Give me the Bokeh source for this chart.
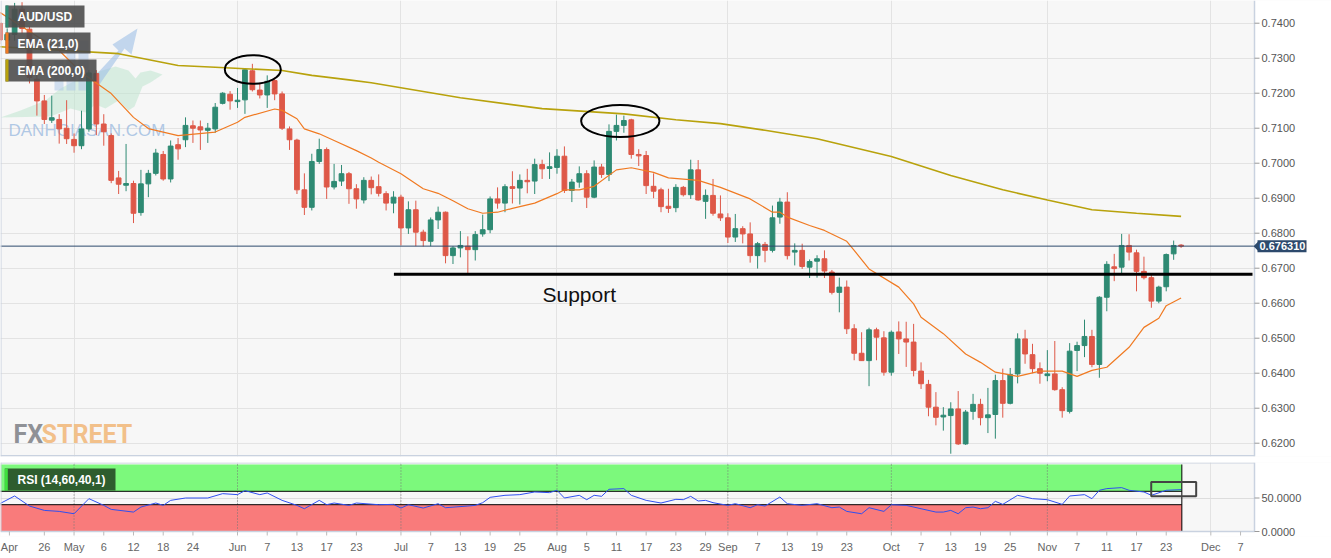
import numpy as np
import pandas as pd
from bokeh.plotting import figure
from bokeh.models import ColumnDataSource, FixedTicker, Range1d
from bokeh.layouts import column
from bokeh.embed import file_html
from bokeh.resources import INLINE
from bokeh.core.properties import value

# ---------------- data (AUD/USD daily) ----------------
dates = pd.bdate_range("2022-04-18", "2022-11-25")

opens = [0.7400, 0.7352, 0.7368, 0.7440, 0.7383, 0.7240, 0.7178, 0.7123, 0.7125, 0.7100,
         0.7068, 0.7050, 0.7098, 0.7256, 0.7112, 0.7079, 0.6958, 0.6937, 0.6942, 0.6859,
         0.6941, 0.6971, 0.7025, 0.6955, 0.7053, 0.7067, 0.7107, 0.7104, 0.7094, 0.7098,
         0.7171, 0.7197, 0.7176, 0.7181, 0.7264, 0.7209, 0.7195, 0.7236, 0.7198, 0.7098,
         0.7066, 0.6924, 0.6874, 0.7005, 0.7039, 0.6932, 0.6949, 0.6970, 0.6927, 0.6895,
         0.6951, 0.6933, 0.6913, 0.6886, 0.6903, 0.6815, 0.6867, 0.6803, 0.6777, 0.6838,
         0.6860, 0.6736, 0.6758, 0.6763, 0.6753, 0.6798, 0.6810, 0.6898, 0.6886, 0.6933,
         0.6929, 0.6951, 0.6949, 0.6996, 0.6985, 0.6988, 0.7020, 0.6922, 0.6946, 0.6970,
         0.6903, 0.6989, 0.6968, 0.7091, 0.7108, 0.7124, 0.7025, 0.7022, 0.6934, 0.6924,
         0.6877, 0.6873, 0.6931, 0.6910, 0.6981, 0.6891, 0.6908, 0.6855, 0.6844, 0.6789,
         0.6813, 0.6798, 0.6736, 0.6768, 0.6751, 0.6846, 0.6889, 0.6746, 0.6751, 0.6703,
         0.6720, 0.6727, 0.6689, 0.6631, 0.6646, 0.6527, 0.6457, 0.6436, 0.6524, 0.6501,
         0.6403, 0.6518, 0.6498, 0.6489, 0.6406, 0.6368, 0.6303, 0.6275, 0.6279, 0.6298,
         0.6198, 0.6291, 0.6311, 0.6273, 0.6282, 0.6379, 0.6314, 0.6398, 0.6498, 0.6453,
         0.6413, 0.6393, 0.6398, 0.6353, 0.6291, 0.6465, 0.6479, 0.6505, 0.6425, 0.6617,
         0.6704, 0.6703, 0.6765, 0.6744, 0.6691, 0.6673, 0.6606, 0.6647, 0.6741, 0.6766]
highs = [0.7430, 0.7385, 0.7458, 0.7460, 0.7390, 0.7255, 0.7195, 0.7193, 0.7140, 0.7180,
         0.7085, 0.7150, 0.7266, 0.7266, 0.7140, 0.7085, 0.6978, 0.7055, 0.6950, 0.6981,
         0.6981, 0.7041, 0.7035, 0.7065, 0.7072, 0.7131, 0.7122, 0.7122, 0.7115, 0.7172,
         0.7203, 0.7206, 0.7215, 0.7270, 0.7284, 0.7230, 0.7251, 0.7245, 0.7205, 0.7105,
         0.7070, 0.6971, 0.7027, 0.7070, 0.7045, 0.6998, 0.6995, 0.6975, 0.6940, 0.6960,
         0.6962, 0.6968, 0.6920, 0.6920, 0.6910, 0.6891, 0.6893, 0.6810, 0.6845, 0.6876,
         0.6862, 0.6763, 0.6806, 0.6791, 0.6806, 0.6853, 0.6905, 0.6931, 0.6940, 0.6977,
         0.6968, 0.6984, 0.7013, 0.7010, 0.7031, 0.7040, 0.7048, 0.6955, 0.6991, 0.6980,
         0.7008, 0.6998, 0.7111, 0.7139, 0.7136, 0.7127, 0.7040, 0.7035, 0.6971, 0.6930,
         0.6927, 0.6940, 0.6935, 0.7010, 0.7009, 0.6925, 0.6955, 0.6908, 0.6857, 0.6855,
         0.6820, 0.6831, 0.6775, 0.6775, 0.6879, 0.6901, 0.6917, 0.6771, 0.6770, 0.6725,
         0.6737, 0.6751, 0.6695, 0.6673, 0.6665, 0.6540, 0.6517, 0.6530, 0.6530, 0.6520,
         0.6522, 0.6548, 0.6547, 0.6541, 0.6431, 0.6381, 0.6346, 0.6303, 0.6317, 0.6349,
         0.6295, 0.6341, 0.6327, 0.6358, 0.6396, 0.6413, 0.6415, 0.6514, 0.6524, 0.6484,
         0.6431, 0.6466, 0.6492, 0.6360, 0.6486, 0.6490, 0.6553, 0.6524, 0.6620, 0.6720,
         0.6741, 0.6798, 0.6797, 0.6753, 0.6733, 0.6686, 0.6650, 0.6742, 0.6779, 0.6769]
lows = [0.7340, 0.7340, 0.7350, 0.7371, 0.7228, 0.7136, 0.7112, 0.7115, 0.7056, 0.7055,
        0.7030, 0.7040, 0.7090, 0.7080, 0.7050, 0.6943, 0.6912, 0.6920, 0.6829, 0.6850,
        0.6903, 0.6965, 0.6950, 0.6945, 0.7010, 0.7046, 0.7058, 0.7038, 0.7058, 0.7087,
        0.7168, 0.7153, 0.7158, 0.7141, 0.7205, 0.7185, 0.7158, 0.7180, 0.7095, 0.7038,
        0.6912, 0.6852, 0.6865, 0.6998, 0.6898, 0.6925, 0.6935, 0.6884, 0.6870, 0.6885,
        0.6911, 0.6905, 0.6865, 0.6857, 0.6765, 0.6798, 0.6763, 0.6762, 0.6763, 0.6812,
        0.6714, 0.6712, 0.6731, 0.6682, 0.6722, 0.6790, 0.6800, 0.6870, 0.6860, 0.6885,
        0.6882, 0.6914, 0.6912, 0.6955, 0.6955, 0.6970, 0.6915, 0.6889, 0.6930, 0.6872,
        0.6900, 0.6958, 0.6949, 0.7065, 0.7087, 0.7013, 0.6992, 0.6912, 0.6900, 0.6860,
        0.6858, 0.6860, 0.6905, 0.6898, 0.6893, 0.6841, 0.6850, 0.6835, 0.6772, 0.6775,
        0.6771, 0.6716, 0.6699, 0.6717, 0.6745, 0.6827, 0.6725, 0.6708, 0.6698, 0.6672,
        0.6673, 0.6672, 0.6625, 0.6574, 0.6512, 0.6437, 0.6435, 0.6363, 0.6437, 0.6393,
        0.6393, 0.6455, 0.6418, 0.6391, 0.6355, 0.6277, 0.6251, 0.6236, 0.6170, 0.6195,
        0.6195, 0.6267, 0.6251, 0.6229, 0.6213, 0.6273, 0.6311, 0.6371, 0.6427, 0.6400,
        0.6370, 0.6377, 0.6350, 0.6273, 0.6285, 0.6406, 0.6446, 0.6417, 0.6387, 0.6577,
        0.6663, 0.6686, 0.6722, 0.6634, 0.6668, 0.6587, 0.6600, 0.6634, 0.6724, 0.6758]
closes = [0.7352, 0.7368, 0.7440, 0.7385, 0.7245, 0.7178, 0.7125, 0.7130, 0.7098, 0.7070,
          0.7050, 0.7098, 0.7258, 0.7112, 0.7090, 0.6951, 0.6940, 0.6942, 0.6857, 0.6941,
          0.6971, 0.7029, 0.6955, 0.7049, 0.7041, 0.7108, 0.7100, 0.7095, 0.7100, 0.7160,
          0.7200, 0.7178, 0.7180, 0.7267, 0.7210, 0.7195, 0.7234, 0.7198, 0.7100, 0.7067,
          0.6924, 0.6874, 0.7005, 0.7039, 0.6932, 0.6948, 0.6970, 0.6927, 0.6898, 0.6951,
          0.6930, 0.6914, 0.6886, 0.6903, 0.6815, 0.6867, 0.6803, 0.6779, 0.6838, 0.6860,
          0.6736, 0.6758, 0.6765, 0.6753, 0.6796, 0.6810, 0.6898, 0.6886, 0.6933, 0.6928,
          0.6951, 0.6947, 0.6996, 0.6984, 0.6990, 0.7020, 0.6922, 0.6946, 0.6970, 0.6903,
          0.6989, 0.6968, 0.7091, 0.7108, 0.7122, 0.7025, 0.7021, 0.6936, 0.6920, 0.6876,
          0.6871, 0.6931, 0.6910, 0.6981, 0.6895, 0.6908, 0.6857, 0.6844, 0.6789, 0.6813,
          0.6798, 0.6736, 0.6770, 0.6751, 0.6844, 0.6889, 0.6736, 0.6751, 0.6705, 0.6719,
          0.6727, 0.6692, 0.6631, 0.6646, 0.6527, 0.6457, 0.6436, 0.6524, 0.6503, 0.6403,
          0.6517, 0.6498, 0.6489, 0.6408, 0.6370, 0.6303, 0.6274, 0.6280, 0.6298, 0.6198,
          0.6289, 0.6311, 0.6273, 0.6281, 0.6379, 0.6314, 0.6396, 0.6498, 0.6455, 0.6413,
          0.6400, 0.6398, 0.6353, 0.6293, 0.6463, 0.6479, 0.6505, 0.6425, 0.6617, 0.6711,
          0.6699, 0.6765, 0.6746, 0.6691, 0.6673, 0.6606, 0.6646, 0.6739, 0.6765, 0.67631]

# EMA 21 / EMA 200 read at selected dates
ema21_dates = ["2022-04-18", "2022-04-28", "2022-05-03", "2022-05-09", "2022-05-12", "2022-05-16",
               "2022-05-20", "2022-05-27", "2022-06-01", "2022-06-02", "2022-06-08", "2022-06-09",
               "2022-06-13", "2022-06-14", "2022-06-16", "2022-06-20", "2022-06-23", "2022-06-27",
               "2022-06-28", "2022-07-01", "2022-07-06", "2022-07-08", "2022-07-12", "2022-07-14",
               "2022-07-18", "2022-07-20", "2022-07-22", "2022-07-27", "2022-08-01", "2022-08-02",
               "2022-08-04", "2022-08-08", "2022-08-11", "2022-08-15", "2022-08-18", "2022-08-22",
               "2022-08-26", "2022-08-31", "2022-09-06", "2022-09-09", "2022-09-12", "2022-09-13",
               "2022-09-16", "2022-09-20", "2022-09-23", "2022-09-26", "2022-09-28", "2022-10-04",
               "2022-10-06", "2022-10-07", "2022-10-12", "2022-10-17", "2022-10-19", "2022-10-21",
               "2022-10-26", "2022-10-31", "2022-11-03", "2022-11-07", "2022-11-09", "2022-11-11",
               "2022-11-16", "2022-11-18", "2022-11-22", "2022-11-23", "2022-11-25"]
ema21_vals = [0.7431, 0.7322, 0.7259, 0.7199, 0.7131, 0.7099, 0.7079, 0.7089, 0.7117, 0.7131,
              0.7155, 0.7151, 0.7127, 0.7098, 0.7084, 0.7065, 0.7036, 0.7015, 0.7003, 0.6970,
              0.6927, 0.6914, 0.6893, 0.6870, 0.6857, 0.6860, 0.6871, 0.6886, 0.6913, 0.6924,
              0.6924, 0.6934, 0.6981, 0.6987, 0.6974, 0.6958, 0.6951, 0.6931, 0.6898, 0.6860,
              0.6860, 0.6846, 0.6822, 0.6808, 0.6777, 0.6751, 0.6698, 0.6646, 0.6598, 0.6560,
              0.6513, 0.6455, 0.6431, 0.6403, 0.6391, 0.6406, 0.6406, 0.6391, 0.6408, 0.6417,
              0.6474, 0.6531, 0.6557, 0.6593, 0.6615]

ema200_dates = ["2022-04-18", "2022-05-10", "2022-05-20", "2022-05-27", "2022-06-02", "2022-06-09",
                "2022-06-15", "2022-06-22", "2022-06-27", "2022-07-13", "2022-07-28", "2022-08-12",
                "2022-08-23", "2022-08-31", "2022-09-08", "2022-09-19", "2022-10-03", "2022-10-13",
                "2022-10-24", "2022-11-01", "2022-11-09", "2022-11-17", "2022-11-25"]
ema200_vals = [0.7333, 0.7313, 0.7279, 0.7274, 0.7270, 0.7265, 0.7251, 0.7238, 0.7230, 0.7187,
               0.7156, 0.7141, 0.7124, 0.7113, 0.7094, 0.7070, 0.7019, 0.6965, 0.6924, 0.6895,
               0.6867, 0.6857, 0.6848]

# RSI (14) read at selected dates
rsi_dates = ["2022-04-18", "2022-04-20", "2022-04-22", "2022-04-26", "2022-04-28", "2022-05-02",
             "2022-05-04", "2022-05-06", "2022-05-09", "2022-05-12", "2022-05-13", "2022-05-17",
             "2022-05-18", "2022-05-19", "2022-05-23", "2022-05-26", "2022-05-30", "2022-06-01",
             "2022-06-02", "2022-06-06", "2022-06-07", "2022-06-09", "2022-06-13", "2022-06-14",
             "2022-06-16", "2022-06-17", "2022-06-20", "2022-06-22", "2022-06-23", "2022-06-28",
             "2022-06-30", "2022-07-01", "2022-07-04", "2022-07-06", "2022-07-08", "2022-07-11",
             "2022-07-14", "2022-07-15", "2022-07-18", "2022-07-19", "2022-07-21", "2022-07-25",
             "2022-07-27", "2022-07-29", "2022-08-01", "2022-08-02", "2022-08-04", "2022-08-05",
             "2022-08-08", "2022-08-09", "2022-08-10", "2022-08-12", "2022-08-15", "2022-08-17",
             "2022-08-19", "2022-08-23", "2022-08-24", "2022-08-25", "2022-08-26", "2022-08-29",
             "2022-08-30", "2022-09-01", "2022-09-02", "2022-09-06", "2022-09-07", "2022-09-08",
             "2022-09-12", "2022-09-13", "2022-09-15", "2022-09-19", "2022-09-21", "2022-09-22",
             "2022-09-23", "2022-09-27", "2022-09-28", "2022-09-30", "2022-10-03", "2022-10-05",
             "2022-10-07", "2022-10-11", "2022-10-12", "2022-10-13", "2022-10-14", "2022-10-17",
             "2022-10-18", "2022-10-19", "2022-10-20", "2022-10-21", "2022-10-24", "2022-10-26",
             "2022-10-28", "2022-11-01", "2022-11-03", "2022-11-04", "2022-11-08", "2022-11-09",
             "2022-11-10", "2022-11-11", "2022-11-15", "2022-11-16", "2022-11-18", "2022-11-21",
             "2022-11-23", "2022-11-25"]
rsi_vals = [41.5, 53.0, 38.0, 31.5, 30.0, 26.5,
            49.0, 39.0, 33.0, 29.0, 36.5, 42.5,
            39.0, 46.5, 50.0, 50.0, 56.5, 55.0,
            61.0, 55.0, 57.5, 46.5, 39.0, 34.0,
            46.5, 40.0, 42.5, 39.0, 42.5, 40.0,
            40.5, 35.0, 40.0, 35.0, 41.5, 35.5,
            38.0, 39.0, 43.0, 51.0, 54.0, 55.0,
            59.0, 58.0, 61.5, 50.0, 54.0, 47.5,
            54.0, 52.5, 63.0, 64.0, 54.0, 46.5,
            42.5, 48.0, 47.5, 52.5, 45.5, 46.5,
            43.0, 39.0, 41.5, 35.5, 40.0, 38.0,
            51.5, 41.5, 39.0, 41.5, 35.5, 36.5,
            30.0, 26.5, 35.5, 30.0, 40.0, 39.0,
            34.0, 29.0, 29.0, 31.5, 26.5, 35.5,
            36.5, 34.0, 35.5, 45.0, 40.5, 54.0,
            49.0, 47.5, 40.5, 53.0, 55.0, 49.0,
            61.5, 64.0, 65.5, 61.5, 59.0, 54.0,
            61.5, 62.5]

last_price = 0.676310
support_level = 0.6683
support_from = "2022-06-30"

xt_dates = ["2022-04-19", "2022-04-26", "2022-05-02", "2022-05-06", "2022-05-12", "2022-05-18",
            "2022-05-24", "2022-06-01", "2022-06-07", "2022-06-13", "2022-06-17", "2022-06-23",
            "2022-07-01", "2022-07-07", "2022-07-13", "2022-07-19", "2022-07-25", "2022-08-01",
            "2022-08-05", "2022-08-11", "2022-08-17", "2022-08-23", "2022-08-29", "2022-09-01",
            "2022-09-07", "2022-09-13", "2022-09-19", "2022-09-23", "2022-10-03", "2022-10-07",
            "2022-10-13", "2022-10-19", "2022-10-25", "2022-11-01", "2022-11-07", "2022-11-11",
            "2022-11-17", "2022-11-23", "2022-12-01", "2022-12-07"]
xt_labels = ["Apr", "26", "May", "6", "12", "18", "24", "Jun", "7", "13", "17", "23",
             "Jul", "7", "13", "19", "25", "Aug", "5", "11", "17", "23", "29", "Sep",
             "7", "13", "19", "23", "Oct", "7", "13", "19", "25", "Nov", "7", "11",
             "17", "23", "Dec", "7"]
month_dates = ["2022-05-02", "2022-06-01", "2022-07-01", "2022-08-01", "2022-09-01",
               "2022-10-03", "2022-11-01", "2022-12-01"]
y_ticks = [0.62, 0.63, 0.64, 0.65, 0.66, 0.67, 0.68, 0.69, 0.70, 0.71, 0.72, 0.73, 0.74]
rsi_ticks = [0, 50]

# ---------------- helpers ----------------
ORIGIN = "2022-06-01"


def bpos(d):
    return int(np.busday_count(ORIGIN, d))


idx = np.array([bpos(d.strftime("%Y-%m-%d")) for d in dates])
o = np.array(opens); h = np.array(highs); l = np.array(lows); c = np.array(closes)

W = 1331
FW = 1254              # width of the price area (axis strip to the right)
MH = 456               # main frame height
X_LO, X_HI = -31.9, 136.88
PX = (X_HI - X_LO) / FW            # data units per pixel
Y_HI = 0.74649
Y_LO = Y_HI - MH / 3500.0
X_FULL = X_LO + W * PX


def px2x(px):
    return X_LO + px * PX


def py2y(py):
    return Y_HI - py / 3500.0


FONT = value("Liberation Sans")
UP = "#2e8a73"
DN = "#de5848"
AX_COL = "#c9d2e0"

# ---------------- main panel (frame spans full width; axis drawn by hand) ----------------
p = figure(width=W, height=MH + 2, x_range=Range1d(X_LO, X_FULL), y_range=Range1d(Y_LO, Y_HI),
           output_backend="svg", toolbar_location=None, x_axis_location=None,
           y_axis_location=None, min_border_left=0, min_border_right=0,
           min_border_top=0, min_border_bottom=2)
p.background_fill_color = "#f7f7f7"
p.border_fill_color = "white"
p.outline_line_color = None
month_pos = [bpos(d) for d in month_dates]
p.xgrid.ticker = FixedTicker(ticks=month_pos)
p.ygrid.ticker = FixedTicker(ticks=y_ticks)
p.xgrid.grid_line_color = "#e3e3e3"
p.ygrid.grid_line_color = "#e3e3e3"

# watermark (behind candles)
p.patch([px2x(v) for v in [0, 20, 45, 60, 75, 95, 115, 128, 135, 140, 150, 162, 150, 142, 138,
                           134, 128, 118, 105, 95, 85, 70, 50]],
        [py2y(v) for v in [117, 110, 100, 88, 80, 72, 66, 70, 78, 72, 70, 74, 82, 86, 96,
                           106, 110, 100, 108, 104, 112, 108, 116]],
        fill_color="#bfe6cf", fill_alpha=0.55, line_color=None)
p.quad(left=[px2x(v) for v in [54, 66, 78]], right=[px2x(v) for v in [63, 75, 88]],
       top=[py2y(v) for v in [60, 48, 40]], bottom=[py2y(90)] * 3,
       fill_color="#aac6e8", fill_alpha=0.5, line_color=None)
p.patch([px2x(v) for v in [92, 118, 112, 137, 131, 124, 99]],
        [py2y(v) for v in [78, 50, 44, 28, 54, 48, 84]],
        fill_color="#9fc0e6", fill_alpha=0.6, line_color=None)
p.text(x=[px2x(8)], y=[py2y(130)], text=["DANHGIASAN.COM"], text_font=FONT,
       text_font_size="17px", text_color="#9dbbe0", text_alpha=0.8, text_baseline="middle")
p.text(x=[px2x(13)], y=[py2y(434)], text=["FX"], text_font=value("Roboto"),
       text_font_style="bold", text_font_size="25px", text_color="#8f9196", text_baseline="alphabetic")
p.text(x=[px2x(41)], y=[py2y(434)], text=["STREET"], text_font=value("Roboto"),
       text_font_style="bold", text_font_size="25px", text_color="#f2c08a", text_baseline="alphabetic")

colors = np.where(c >= o, UP, DN)
src = ColumnDataSource(dict(x=idx, o=o, h=h, l=l, c=c, top=np.maximum(o, c),
                            bot=np.minimum(o, c), col=colors))
p.segment(x0="x", y0="l", x1="x", y1="h", color="col", line_width=1, source=src)
p.vbar(x="x", width=0.64, top="top", bottom="bot", fill_color="col", line_color="col",
       line_width=1, source=src)

p.line([bpos(d) for d in ema200_dates], ema200_vals, color="#b8a20c", line_width=1.6)
p.line([bpos(d) for d in ema21_dates], ema21_vals, color="#f07a22", line_width=1.2)

p.line([X_LO, X_HI], [last_price, last_price], color="#2d4a6d", line_width=1)
p.line([bpos(support_from) + 0.05, px2x(1252)], [support_level, support_level],
       color="black", line_width=3)
p.text(x=[41.05], y=[0.66263], text=["Support"], text_font=FONT, text_font_size="21px",
       text_color="#111111", text_baseline="middle")

# circled tops
p.ellipse(x=[2.06, 51.52], y=[0.72677, 0.71206], width=[7.54, 10.54], height=[0.0082, 0.0092],
          fill_alpha=0, line_color="black", line_width=2)

# legend boxes
boxes = dict(left=[px2x(5)] * 3, right=[px2x(84), px2x(90), px2x(96)],
             top=[py2y(5), py2y(32), py2y(59)], bottom=[py2y(27), py2y(53), py2y(81)])
p.quad(**boxes, fill_color="#4c4c4c", fill_alpha=0.9, line_color=None)
p.quad(left=[px2x(5)] * 3, right=[px2x(8)] * 3, top=boxes["top"], bottom=boxes["bottom"],
       fill_color=[UP, "#f07a22", "#b8a20c"], line_color=None)
p.text(x=[px2x(17)] * 3, y=[py2y(16), py2y(43), py2y(70)],
       text=["AUD/USD", "EMA (21,0)", "EMA (200,0)"], text_font=FONT, text_font_style="bold",
       text_font_size="12px", text_color="white", text_baseline="middle")

# right price axis, drawn in the white strip
p.quad(left=[X_HI], right=[px2x(W + 5)], top=[Y_HI + 1], bottom=[Y_LO - 1],
       fill_color="white", line_color=None)
p.line([X_HI, X_HI], [Y_LO, Y_HI], color=AX_COL, line_width=1.5)
p.line([X_LO + 0.5 * PX, X_LO + 0.5 * PX], [Y_LO, Y_HI], color=AX_COL, line_width=1)
p.line([X_LO, X_HI], [Y_LO + 0.8 / 3500, Y_LO + 0.8 / 3500], color=AX_COL, line_width=1.5)
p.segment(x0=[X_HI] * len(y_ticks), y0=y_ticks, x1=[px2x(1259)] * len(y_ticks), y1=y_ticks,
          color="#999999", line_width=1)
p.text(x=[px2x(1261)] * len(y_ticks), y=y_ticks, text=["%.4f" % v for v in y_ticks],
       text_font=FONT, text_font_size="11px", text_color="#555555", text_baseline="middle")

# price tag
p.patch([px2x(1253), px2x(1258), px2x(1258)],
        [last_price, last_price + 5 / 3500, last_price - 5 / 3500], fill_color="#2d4a6d",
        line_color=None)
p.quad(left=[px2x(1257)], right=[px2x(1306)], top=[last_price + 6 / 3500],
       bottom=[last_price - 6 / 3500], fill_color="#2d4a6d", line_color=None)
p.text(x=[px2x(1259)], y=[last_price], text=["0.676310"], text_font=FONT, text_font_style="bold",
       text_font_size="11px", text_color="white", text_baseline="middle")

# ---------------- RSI panel (frame spans full width too) ----------------
RPX = 100.0 / 67.0                  # RSI units per pixel
R_LO = -5 * RPX                     # 5 px of white strip below 0
R_HI = 100 + 2 * RPX
r = figure(width=W, height=100, x_range=Range1d(X_LO, X_FULL), y_range=Range1d(R_LO, R_HI),
           output_backend="svg", toolbar_location=None, y_axis_location=None,
           min_border_left=0, min_border_right=0, min_border_top=4, min_border_bottom=22)
r.background_fill_color = "#f7f7f7"
r.border_fill_color = "white"
r.outline_line_color = None
r.xgrid.ticker = FixedTicker(ticks=month_pos)
r.xgrid.grid_line_color = "#e3e3e3"
r.ygrid.ticker = FixedTicker(ticks=[50])
r.ygrid.grid_line_color = "#dddddd"

band_end = idx[-1] + 0.1
r.quad(left=[X_LO, X_LO], right=[band_end, band_end], bottom=[60, 0], top=[100, 40],
       fill_color=["#7cf97c", "#f97b7b"], line_color=None)
for m in month_pos[:-1]:
    r.line([m, m], [0, 100], color="#777777", line_dash="1 2", line_width=1)
r.line([X_LO, band_end], [60, 60], color="black", line_width=1)
r.line([X_LO, band_end], [40, 40], color="black", line_width=1)
r.line([band_end, band_end], [0, 100], color="black", line_width=1)
r.line([bpos(d) for d in rsi_dates], rsi_vals, color="#2f4ff0", line_width=1)
r.quad(left=[122.98], right=[129.03], bottom=[52.5], top=[74], fill_alpha=0,
       line_color="#444444", line_width=2)

r.quad(left=[px2x(4.3)], right=[px2x(115)], top=[94], bottom=[61.2], fill_color="#2e5d2e",
       line_color=None)
r.quad(left=[px2x(4.3)], right=[px2x(7.3)], top=[94], bottom=[61.2], fill_color="#3ee03e",
       line_color=None)
r.text(x=[px2x(17)], y=[77.6], text=["RSI (14,60,40,1)"], text_font=FONT, text_font_style="bold",
       text_font_size="12px", text_color="white", text_baseline="middle")

# white strips (right axis area and below the panel)
r.quad(left=[X_HI, X_LO - 1], right=[px2x(W + 5), px2x(W + 5)], top=[R_HI + 5, 0],
       bottom=[R_LO - 5, R_LO - 5], fill_color="white", line_color=None)
# panel border
r.line([X_LO, X_HI, X_HI], [0, 0, R_HI], color=AX_COL, line_width=1.5)
r.line([X_LO, X_HI], [R_HI - 0.5 * RPX, R_HI - 0.5 * RPX], color=AX_COL, line_width=1)
r.line([X_LO + 0.5 * PX, X_LO + 0.5 * PX], [0, R_HI], color=AX_COL, line_width=1)
# right RSI scale
r.segment(x0=[X_HI] * 2, y0=rsi_ticks, x1=[px2x(1259)] * 2, y1=rsi_ticks, color="#999999",
          line_width=1)
r.text(x=[px2x(1261)] * 2, y=rsi_ticks, text=["%.4f" % v for v in rsi_ticks], text_font=FONT,
       text_font_size="11px", text_color="#555555", text_baseline="middle")

xt_pos = [bpos(d) for d in xt_dates]
xt_pos[0] = xt_pos[0] + 0.3
# x tick marks under the panel
r.segment(x0=xt_pos, y0=[0] * len(xt_pos), x1=xt_pos, y1=[-4 * RPX] * len(xt_pos),
          color="#bbbbbb", line_width=1)
rx = r.xaxis[0]
rx.ticker = FixedTicker(ticks=xt_pos)
rx.major_label_overrides = {pp: lab for pp, lab in zip(xt_pos, xt_labels)}
rx.axis_line_color = None
rx.major_tick_line_color = None
rx.major_tick_out = 0
rx.major_tick_in = 0
rx.minor_tick_line_color = None
rx.major_label_standoff = 4
rx.major_label_text_color = "#666666"
rx.major_label_text_font = "Liberation Sans"
rx.major_label_text_font_size = "11px"

layout = column(p, r, spacing=0)
open("out.html", "w").write(file_html(layout, INLINE))
